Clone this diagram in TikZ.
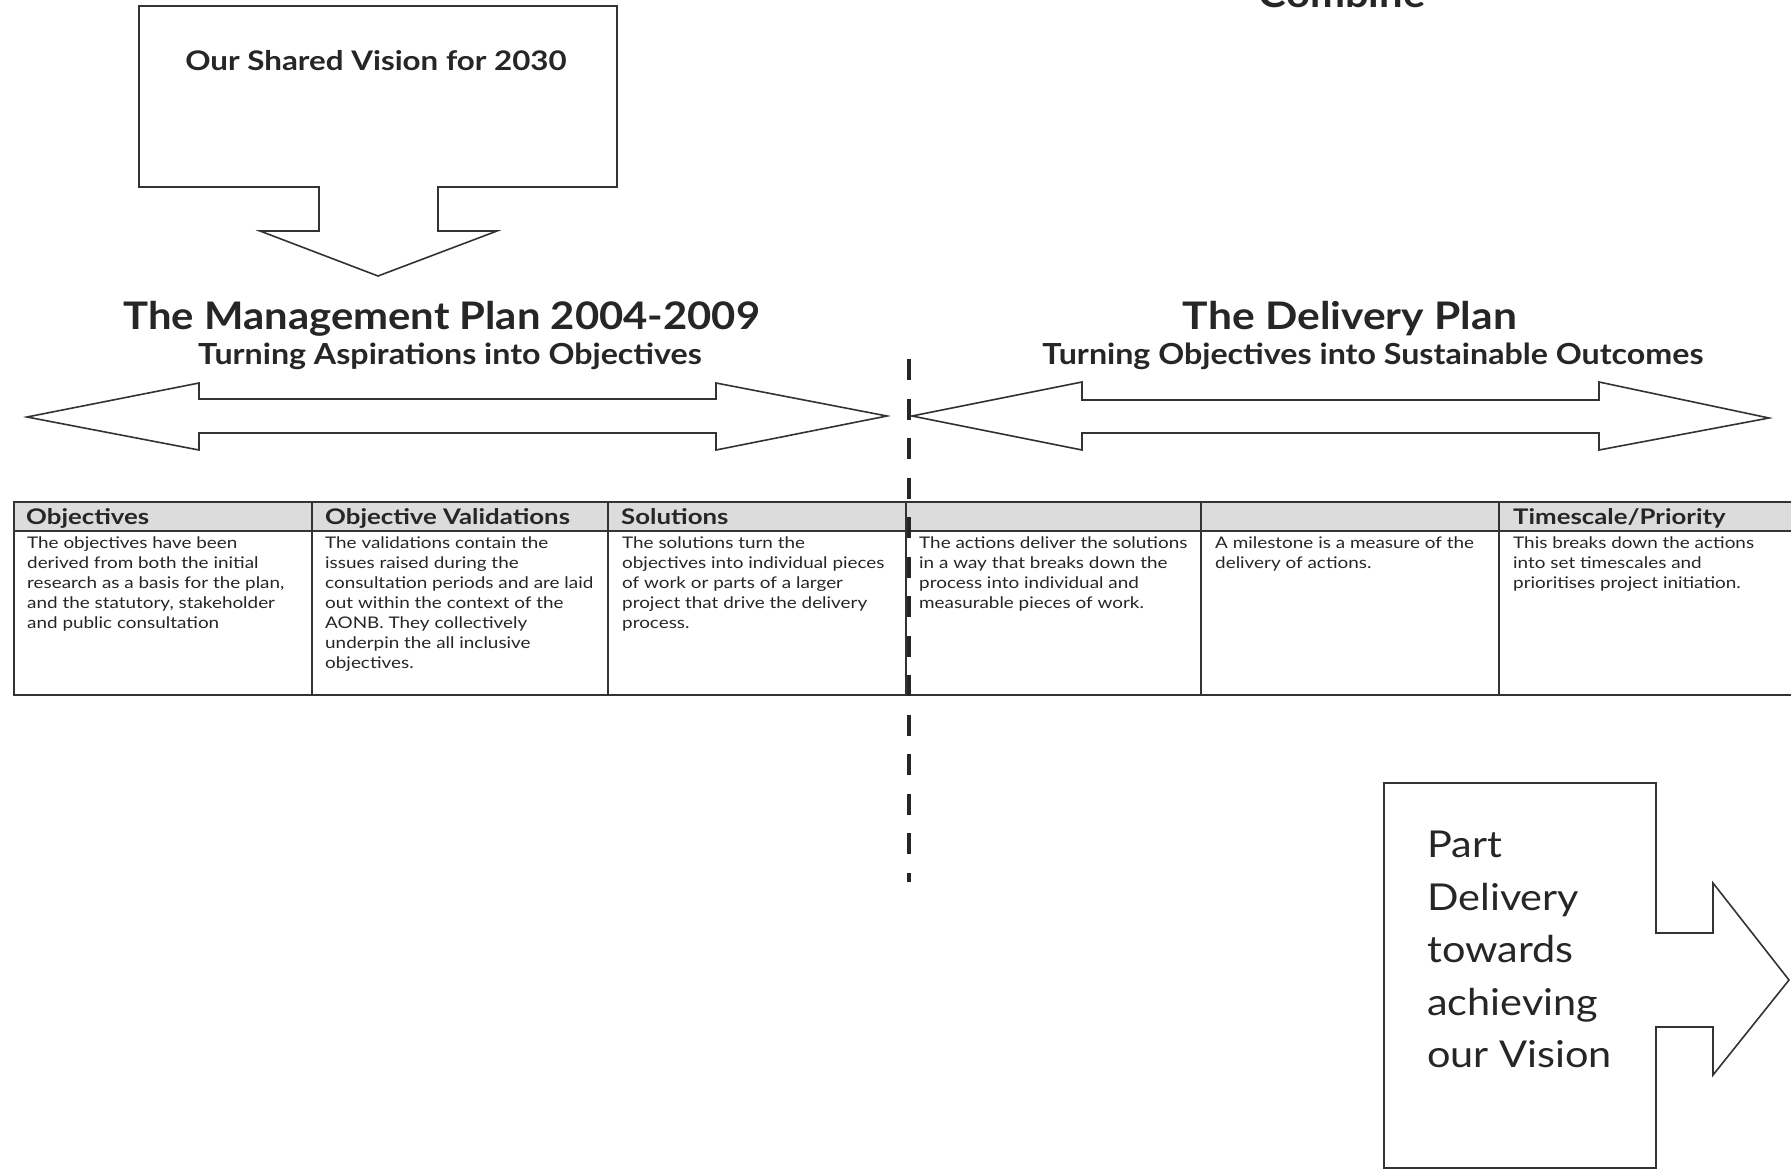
\documentclass[tikz,border=0pt]{standalone}
\usepackage{graphicx}
\usepackage{fontspec}
\setmainfont{Lato}
\definecolor{ink}{HTML}{262626}
\definecolor{linec}{HTML}{333333}
\definecolor{headfill}{HTML}{DCDCDC}
\newcommand\myhs[2]{\scalebox{#1}[1]{#2}}
\newcommand\mylines[2]{\scalebox{#1}[1]{\begin{tabular}{@{}l@{}}#2\end{tabular}}}
\begin{document}
\begin{tikzpicture}[x=1pt,y=-1pt,
  shapeline/.style={draw=linec, line width=1.6pt, fill=white, line join=miter},
  tabline/.style={draw=linec, line width=1.4pt},
  headtxt/.style={anchor=base west, inner sep=0pt, text=ink, font=\fontsize{21.5}{24}\selectfont\bfseries},
  bodytxt/.style={anchor=north west, inner sep=0pt, text=ink, font=\fontsize{16}{20}\selectfont},
  titletxt/.style={anchor=base, inner sep=0pt, text=ink, font=\fontsize{38}{42}\selectfont\bfseries},
  subtxt/.style={anchor=base, inner sep=0pt, text=ink, font=\fontsize{29}{32}\selectfont\bfseries}]
\useasboundingbox[fill=white] (0,0) rectangle (1791,1170);

% Vision box with down arrow
\draw[shapeline] (139,6) -- (617,6) -- (617,187) -- (438,187) -- (438,231) -- (497,231)
  -- (378,276) -- (260,231) -- (319,231) -- (319,187) -- (139,187) -- cycle;
\node[anchor=base, inner sep=0pt, text=ink, font=\fontsize{27}{30}\selectfont\bfseries] (vision) at (376,70) {\myhs{1.16}{Our Shared Vision for 2030}};

% Combine (cut at top)
\node[anchor=base, inner sep=0pt, text=ink, font=\fontsize{38}{42}\selectfont\bfseries] (combine) at (1342,7) {\myhs{1.1}{Combine}};

% Headings
\node[titletxt] (mgmt) at (442,329) {\myhs{1.1}{The Management Plan 2004-2009}};
\node[subtxt] (mgmtsub) at (450,364) {\myhs{1.11}{Turning Aspirations into Objectives}};
\node[titletxt] (deliv) at (1350,329) {\myhs{1.12}{The Delivery Plan}};
\node[subtxt] (delivsub) at (1373,364) {\myhs{1.11}{Turning Objectives into Sustainable Outcomes}};

% Double arrows
\draw[shapeline] (27,417) -- (199,383) -- (199,399) -- (716,399) -- (716,383) -- (887,416)
  -- (716,450) -- (716,433) -- (199,433) -- (199,450) -- cycle;
\draw[shapeline] (912,416) -- (1082,382) -- (1082,400) -- (1599,400) -- (1599,382) -- (1769,418)
  -- (1599,450) -- (1599,433) -- (1082,433) -- (1082,450) -- cycle;

% Table
\fill[headfill] (14,502) rectangle (1791,531);
\draw[tabline] (1791,502) -- (14,502) -- (14,695) -- (1791,695);
\draw[tabline] (14,531) -- (1791,531);
\foreach \cx in {312,608,906,1201,1499} \draw[tabline] (\cx,502) -- (\cx,695);

\node[headtxt] (h1) at (26,524) {\myhs{1.2}{Objectives}};
\node[headtxt] (h2) at (325,524) {\myhs{1.2}{Objective Validations}};
\node[headtxt] (h3) at (621,524) {\myhs{1.2}{Solutions}};
\node[headtxt] (h6) at (1513,524) {\myhs{1.2}{Timescale/Priority}};

\node[bodytxt] (b1) at (27,534) {\mylines{1.18}{The objectives have been\\derived from both the initial\\research as a basis for the plan,\\and the statutory, stakeholder\\and public consultation}};
\node[bodytxt] (b2) at (325,534) {\mylines{1.18}{The validations contain the\\issues raised during the\\consultation periods and are laid\\out within the context of the\\AONB. They collectively\\underpin the all inclusive\\objectives.}};
\node[bodytxt] (b3) at (622,534) {\mylines{1.18}{The solutions turn the\\objectives into individual pieces\\of work or parts of a larger\\project that drive the delivery\\process.}};
\node[bodytxt] (b4) at (919,534) {\mylines{1.18}{The actions deliver the solutions\\in a way that breaks down the\\process into individual and\\measurable pieces of work.}};
\node[bodytxt] (b5) at (1215,534) {\mylines{1.18}{A milestone is a measure of the\\delivery of actions.}};
\node[bodytxt] (b6) at (1513,534) {\mylines{1.18}{This breaks down the actions\\into set timescales and\\prioritises project initiation.}};

% Dashed divider
\draw[draw=ink, line width=4pt, dash pattern=on 21pt off 18.5pt] (909,359) -- (909,882);

% Part delivery box with right arrow
\draw[shapeline] (1384,783) -- (1656,783) -- (1656,933) -- (1713,933) -- (1713,883) -- (1789,980)
  -- (1713,1075) -- (1713,1027) -- (1656,1027) -- (1656,1168) -- (1384,1168) -- cycle;
\node[anchor=north west, inner sep=0pt, text=ink, font=\fontsize{37}{52.5}\selectfont] (part) at (1427,821) {\mylines{1.12}{Part\\Delivery\\towards\\achieving\\our Vision}};
\end{tikzpicture}
\end{document}
